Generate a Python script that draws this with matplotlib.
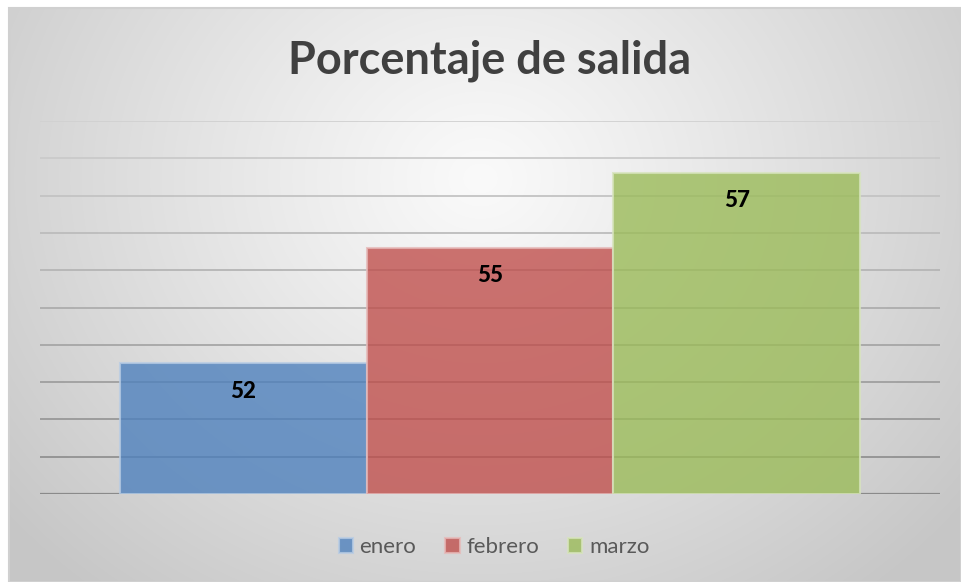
import numpy as np
import matplotlib
matplotlib.use("Agg")
import matplotlib.pyplot as plt
from matplotlib.patches import Rectangle

plt.rcParams['font.family'] = ['Lato', 'DejaVu Sans']

title = "Porcentaje de salida"
series = ["enero", "febrero", "marzo"]
values = [51.9, 55.0, 57.0]
colors = ["#4f81bd", "#c0504d", "#9bbb59"]
edges = ["#b8cce4", "#e6b9b8", "#d7e4bd"]

W, H = 961, 582
fig = plt.figure(figsize=(W / 100, H / 100), dpi=100)

# radial gradient background of the chart area
bg = fig.add_axes([10 / W, 0, (W - 10) / W, (H - 8) / H])
yy, xx = np.mgrid[0:H - 8, 0:W - 10]
r = np.hypot(xx - 470, (yy - 170) * 1.15) / 620
val = 250 - 52 * np.clip(r, 0, 1) ** 1.1
img = np.dstack([val, val, val]).astype(np.uint8)
bg.imshow(img, aspect="auto", extent=[0, 1, 0, 1], origin="upper")
bg.axis("off")
fig.patches.append(Rectangle((9 / W, 0), (W - 9) / W, (H - 8) / H, transform=fig.transFigure,
                             fill=False, edgecolor="#d0d0d0", lw=1.5))

ax = fig.add_axes([40 / W, (H - 494) / H, 900 / W, (494 - 121) / H])
ax.patch.set_alpha(0)
lo, hi = 48.4, 58.4
ax.set_ylim(lo, hi)
ax.set_xlim(-1.824, 1.824)
ticks = np.arange(lo, hi + 0.01, 1.0)
for i, t in enumerate(ticks):
    g = 0.82 - 0.28 * (1 - i / (len(ticks) - 1))
    ax.axhline(t, color=(g, g, g), lw=1.6 if i == 0 else 1.3, zorder=1)

x = np.arange(len(series)) - 1
bars = ax.bar(x, [v - lo for v in values], bottom=lo, width=1.0, color=colors,
              alpha=0.8, edgecolor=edges, linewidth=1.5, zorder=2)
for xi, v in zip(x, values):
    ax.text(xi, v - 0.74, f"{v:.0f}", ha="center", va="center", fontsize=16,
            fontweight="black", color="black", zorder=3)

for s in ax.spines.values():
    s.set_visible(False)
ax.set_xticks([])
ax.set_yticks([])

fig.text(490 / W, 1 - 61 / H, title, ha="center", va="center", fontsize=32.5,
         fontweight="bold", color="#404040")

fig.legend(handles=list(bars), labels=series, loc="center", bbox_to_anchor=(494 / W, 1 - 547 / H),
           ncol=3, frameon=False, fontsize=16, handlelength=0.65, handleheight=0.65,
           handletextpad=0.3, columnspacing=1.3, labelcolor="#595959")

fig.savefig("out.png", dpi=100)
